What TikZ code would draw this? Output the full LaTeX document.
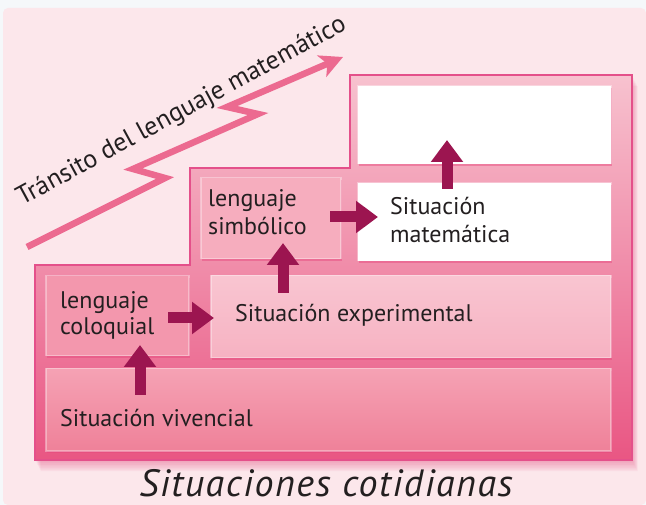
\documentclass[tikz,border=0pt]{standalone}
\usepackage{fontspec}
\setmainfont{PT Sans}
\usetikzlibrary{arrows.meta,shadows}
\definecolor{bgpink}{HTML}{FCE7EB}
\definecolor{topband}{HTML}{F5F8FA}
\definecolor{frametop}{HTML}{F7C2CF}
\definecolor{framebot}{HTML}{E95683}
\definecolor{frameedge}{HTML}{E4508A}
\definecolor{arrowred}{HTML}{9C1550}
\definecolor{zigpink}{HTML}{EC6A90}
\definecolor{txt}{HTML}{231F20}
\definecolor{vivtop}{HTML}{F5A2B4}
\definecolor{vivbot}{HTML}{EF8199}
\definecolor{colofill}{HTML}{F397AD}
\definecolor{exptop}{HTML}{F9C5D1}
\definecolor{expbot}{HTML}{F6B2C2}
\definecolor{simbfill}{HTML}{F6ADBE}
\definecolor{boxshadow}{HTML}{E5477C}
\tikzset{
  staircase/.style={insert path={(35,265) -- (190,265) -- (190,168) -- (350,168) -- (350,75) -- (632,75) -- (632,460) -- (35,460) -- cycle}},
  stepbox/.style={draw=white, draw opacity=0.35, line width=1.5pt, inner sep=0, anchor=north west,
    drop shadow={shadow xshift=1.5pt, shadow yshift=-2.5pt, fill=boxshadow, opacity=0.45}},
  flow/.style={draw=arrowred, line width=11pt, -{Triangle[width=31pt,length=22pt]}},
  zig/.style={draw=zigpink, line width=6.5pt, line join=miter, -{Stealth[length=23pt,width=23pt,inset=6pt]}},
  lbl/.style={anchor=base west, inner sep=0, font=\fontsize{24}{27}\selectfont, text=txt},
}
\begin{document}
\begin{tikzpicture}[x=1pt,y=-1pt]
\useasboundingbox (0,0) rectangle (646,505);
\fill[topband] (0,0) rectangle (646,505);
\fill[bgpink, rounded corners=5pt] (3,8) rectangle (646,505);
% soft shadow of the staircase
\foreach \i in {1,...,7}{
  \fill[boxshadow, opacity=0.07, shift={(\i*0.8,\i*1.6)}] [staircase];
}
\shade[top color=frametop, bottom color=framebot] [staircase];
\draw[frameedge, line width=2pt, line join=miter] [staircase];
% boxes
\node[stepbox, fill=white, minimum width=253, minimum height=78] (topbox) at (357,85) {};
\node[stepbox, fill=white, minimum width=253, minimum height=78] (mat) at (357,182) {};
\node[stepbox, fill=simbfill, minimum width=140, minimum height=81] (simb) at (200,177) {};
\node[stepbox, top color=exptop, bottom color=expbot, minimum width=400, minimum height=82] (exp) at (210,275) {};
\node[stepbox, fill=colofill, minimum width=143, minimum height=80] (colo) at (45,275) {};
\node[stepbox, top color=vivtop, bottom color=vivbot, minimum width=565, minimum height=82] (viv) at (45,368) {};
% texts
\node[lbl] (t1a) at (60,309) {lenguaje};
\node[lbl] (t1b) at (60,335) {coloquial};
\node[lbl] (t2) at (235,322) {Situación experimental};
\node[lbl] (t3) at (60,426) {Situación vivencial};
\node[lbl] (t4a) at (208,207) {lenguaje};
\node[lbl] (t4b) at (208,235) {simbólico};
\node[lbl] (t5a) at (390,215) {Situación};
\node[lbl] (t5b) at (390,243) {matemática};
\node[anchor=base, inner sep=0, font=\fontsize{38}{40}\selectfont\itshape\addfontfeature{LetterSpace=4}, text=txt] (title) at (326,496) {Situaciones cotidianas};
\node[anchor=base west, inner sep=0, rotate=28.5, font=\fontsize{26}{28}\selectfont, text=txt] (diag) at (22,206) {Tránsito del lenguaje matemático};
% connectors
\coordinate (a1s) at (140,395); \coordinate (a1e) at (140,345);
\coordinate (a2s) at (168,318); \coordinate (a2e) at (214,318);
\coordinate (a3s) at (283,293); \coordinate (a3e) at (283,243);
\coordinate (a4s) at (330,217); \coordinate (a4e) at (378,217);
\coordinate (a5s) at (447,189); \coordinate (a5e) at (447,140);
\draw[flow] (a1s) -- (a1e);
\draw[flow] (a2s) -- (a2e);
\draw[flow] (a3s) -- (a3e);
\draw[flow] (a4s) -- (a4e);
\draw[flow] (a5s) -- (a5e);
% zigzag arrow
\coordinate (z0) at (27,247);
\coordinate (z1) at (165,178);
\coordinate (z2) at (133,169);
\coordinate (z3) at (258,114);
\coordinate (z4) at (227,107);
\coordinate (z5) at (343,57);
\draw[zig] (z0) -- (z1) -- (z2) -- (z3) -- (z4) -- (z5);
\end{tikzpicture}
\end{document}
